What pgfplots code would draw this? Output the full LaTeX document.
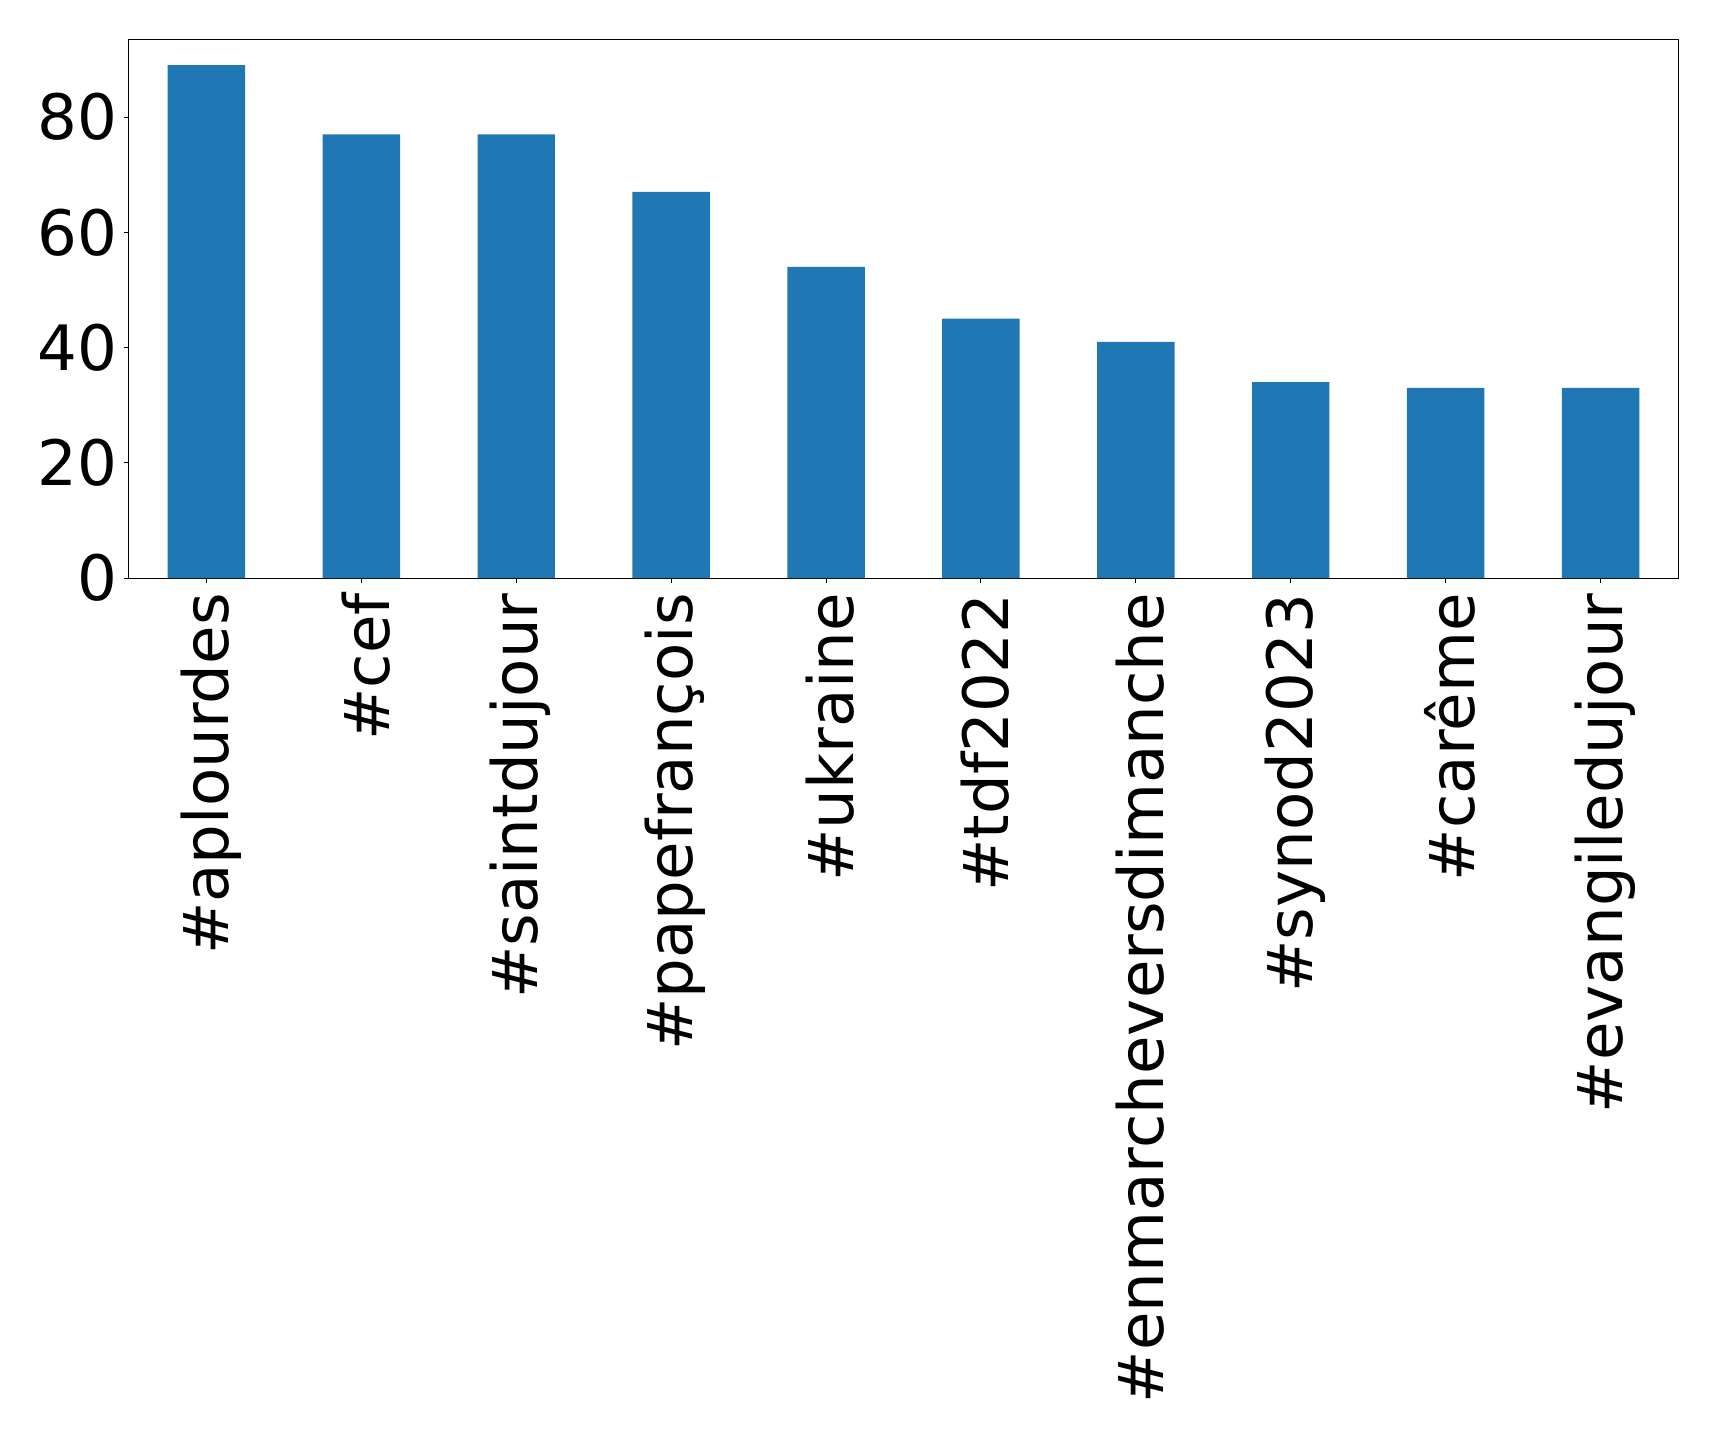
\documentclass[border=0pt]{standalone}
\usepackage{pgfplots}
\pgfplotsset{compat=1.18}
\usepackage{fontspec}
\setmainfont{DejaVu Sans}
\definecolor{mplblue}{HTML}{1F77B4}
\begin{document}
\begin{tikzpicture}
\path[use as bounding box] (-64.5pt,-429pt) rectangle (795pt,289pt);
\begin{axis}[
  at={(0,0)}, anchor=south west,
  scale only axis,
  width=774.5pt, height=269.25pt,
  xmin=-0.5, xmax=9.5, ymin=0, ymax=93.45,
  xtick={0,...,9},
  xticklabels={\#aplourdes,\#cef,\#saintdujour,\#papefrançois,\#ukraine,\#tdf2022,\#enmarcheversdimanche,\#synod2023,\#carême,\#evangiledujour},
  ytick={0,20,40,60,80},
  xtick pos=bottom, ytick pos=left,
  tick align=outside,
  major tick length=2.5pt,
  tick style={black, line width=0.5pt},
  axis line style={line width=0.5pt},
  /pgf/number format/assume math mode=true,
  tick label style={font=\fontsize{31.3}{37}\selectfont},
  xticklabel style={xshift=2.2pt, rotate=90, anchor=east, inner xsep=5pt, inner ysep=3pt},
  yticklabel style={inner sep=3pt},
]
\addplot[ybar, bar width=0.5, fill=mplblue, draw=none] coordinates {
 (0,89) (1,77) (2,77) (3,67) (4,54) (5,45) (6,41) (7,34) (8,33) (9,33)
};
\end{axis}
\end{tikzpicture}
\end{document}
